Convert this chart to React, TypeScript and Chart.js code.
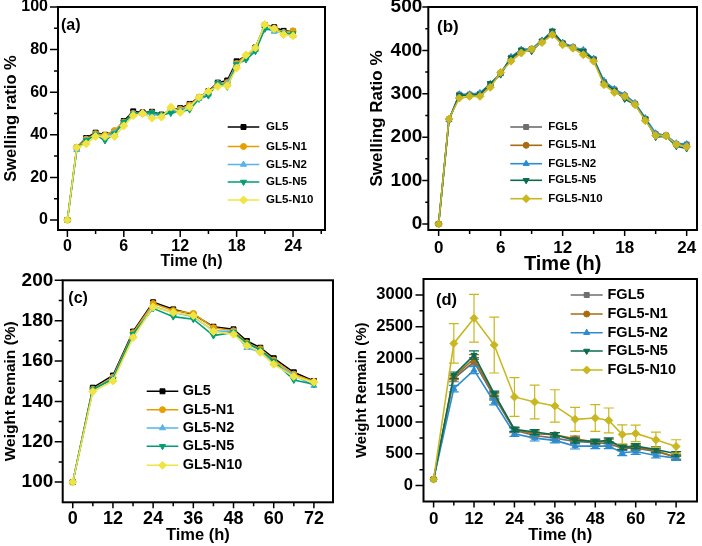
import React, { useEffect, useRef } from 'react';
import { Chart, registerables } from 'chart.js';
import { drawPoint } from 'chart.js/helpers';

Chart.register(...registerables);

const FONT = '"Liberation Sans", Arial, Helvetica, sans-serif';
const W = 702;
const H = 546;

// ---------- data: panels (a) and (b) ----------
const hoursAB = [0, 1, 2, 3, 4, 5, 6, 7, 8, 9, 10, 11, 12, 13, 14, 15, 16, 17, 18, 19, 20, 21, 22, 23, 24];

const gl5A = [0, 34, 38.5, 41, 40, 41.5, 46.5, 51, 50.5, 50.8, 49.5, 51.5, 52.5, 54.5, 57.5, 60.5, 64.5, 65.5, 74.5, 77, 81, 91.5, 90.5, 88.8, 88.5];
const gl5N1A = [0, 34, 38, 40.5, 39.8, 42, 46, 50, 50, 50.3, 49, 51.5, 52, 54, 57.5, 60.3, 64, 64.5, 73.5, 77.3, 80.5, 91.5, 90, 88, 88.8];
const gl5N2A = [0, 33, 37.5, 40, 39, 41, 45.5, 50, 50, 49.5, 49, 51, 51.5, 53.5, 57, 59, 64, 64, 73, 76, 80, 90, 88.5, 88, 86.5];
const gl5N5A = [0, 33.5, 37.3, 40, 37.3, 40.5, 46, 49.5, 50, 50.5, 49.3, 50.2, 51, 51.8, 56.8, 58.4, 64.3, 62.5, 73, 75.3, 79.2, 89.7, 89.3, 87.5, 87.5];
const gl5N10A = [0, 34, 35.8, 39.2, 39.2, 39.2, 44.2, 49, 50, 47.8, 48.3, 53, 50.5, 53, 57.6, 60.4, 62.7, 63, 71.4, 77.5, 80.8, 91.8, 89.7, 87, 86.5];

const fgl5B = [0, 241, 298, 298, 300, 322, 348, 383, 400, 403, 421, 443, 417, 407, 399, 380, 327, 310, 296, 277, 242, 207, 204, 184, 183];
const fgl5N1B = [0, 241, 295, 297, 298, 320, 348, 380, 398, 403, 420, 440, 416, 406, 397, 378, 326, 309, 295, 277, 241, 206, 203, 183, 180];
const fgl5N2B = [0, 240, 299, 299, 302, 323, 346, 385, 402, 404, 423, 444, 418, 408, 401, 381, 330, 311, 298, 279, 244, 209, 204, 186, 184];
const fgl5N5B = [0, 239, 297, 296, 299, 324, 344, 383, 401, 398, 421, 445, 416, 405, 398, 379, 325, 308, 288, 275, 242, 200, 202, 179, 174];
const fgl5N10B = [0, 242, 290, 294, 294, 315, 349, 375, 394, 403, 418, 436, 413, 405, 390, 375, 321, 303, 294, 275, 238, 204, 203, 183, 178];

// ---------- data: panels (c) and (d) ----------
const hoursCD = [0, 6, 12, 18, 24, 30, 36, 42, 48, 52, 56, 60, 66, 72];

const gl5C = [100, 146.8, 152.8, 174.6, 189.1, 185.6, 183.1, 177, 175.7, 169.9, 166.6, 161.4, 154.4, 150.1];
const gl5N1C = [100, 146, 152, 174, 188.5, 185, 183.6, 176.5, 175, 169, 166, 160.5, 153.5, 149.8];
const gl5N2C = [100, 145.5, 151.5, 173, 187, 184, 182, 175, 174.5, 166.6, 164.5, 159, 153, 147.8];
const gl5N5C = [100, 146, 151, 173.3, 186.1, 182, 180.7, 172.6, 174.2, 168.8, 165.5, 160, 150.6, 148.5];
const gl5N10C = [100, 144.9, 150.1, 171.6, 186.8, 184, 182.5, 174.6, 173.3, 167.6, 164.3, 158.4, 152.3, 149.5];

const fgl5D = [100, 1684, 1947, 1395, 868, 789, 747, 695, 674, 658, 589, 589, 537, 447];
const fgl5N1D = [100, 1711, 2000, 1421, 879, 816, 800, 737, 684, 695, 605, 605, 553, 447];
const fgl5N2D = [100, 1526, 1816, 1316, 816, 747, 711, 621, 621, 621, 516, 537, 474, 432];
const fgl5N5D = [100, 1737, 2053, 1447, 884, 842, 800, 711, 695, 711, 605, 621, 568, 500];
const fgl5N10D = [100, 2237, 2632, 2211, 1395, 1316, 1253, 1042, 1063, 1026, 805, 821, 721, 616];

const fgl5DErr = [0, 50, 65, 50, 35, 40, 35, 40, 35, 35, 40, 40, 40, 35];
const fgl5N1DErr = [0, 45, 60, 45, 35, 40, 35, 40, 35, 35, 35, 35, 35, 35];
const fgl5N2DErr = [0, 50, 55, 45, 40, 45, 40, 45, 40, 40, 45, 45, 40, 35];
const fgl5N5DErr = [0, 50, 65, 40, 35, 40, 35, 40, 35, 40, 40, 40, 40, 35];
const fgl5N10DErr = [0, 310, 375, 440, 305, 265, 255, 190, 210, 195, 150, 130, 120, 105];

// ---------- names and ticks ----------
const namesAC = ['GL5', 'GL5-N1', 'GL5-N2', 'GL5-N5', 'GL5-N10'];
const namesBD = ['FGL5', 'FGL5-N1', 'FGL5-N2', 'FGL5-N5', 'FGL5-N10'];

const xTicksA = [0, 3, 6, 9, 12, 15, 18, 21, 24, 27];
const xTicksB = [0, 3, 6, 9, 12, 15, 18, 21, 24];
const xLabelsAB = [0, 6, 12, 18, 24];
const xTicksCD = [0, 6, 12, 18, 24, 30, 36, 42, 48, 54, 60, 66, 72];
const xLabelsCD = [0, 12, 24, 36, 48, 60, 72];

const yTicksA = [0, 10, 20, 30, 40, 50, 60, 70, 80, 90, 100];
const yLabelsA = [0, 20, 40, 60, 80, 100];
const yTicksB = [0, 50, 100, 150, 200, 250, 300, 350, 400, 450, 500];
const yLabelsB = [0, 100, 200, 300, 400, 500];
const yTicksC = [100, 110, 120, 130, 140, 150, 160, 170, 180, 190, 200];
const yLabelsC = [100, 120, 140, 160, 180, 200];
const yTicksD = [0, 250, 500, 750, 1000, 1250, 1500, 1750, 2000, 2250, 2500, 2750, 3000];
const yLabelsD = [0, 500, 1000, 1500, 2000, 2500, 3000];

// ---------- styles ----------
const colorsAC = ['#000000', '#E69F00', '#56B4E9', '#009E73', '#F0E442'];
const colorsBD = ['#6E6E6E', '#A86B12', '#2B8CD0', '#0B6B4F', '#C9B720'];
const pointStyles = ['rect', 'circle', 'triangle', 'triangle', 'rectRot'];
const pointRotations = [0, 0, 0, 180, 0];
const pointRadii = [3.5, 3, 3.5, 3.5, 4];

const panels: any[] = [
  {
    key: 'a', tag: '(a)', tagX: 61, tagY: 26, tagSize: 16,
    frame: { l: 58, r: 325, t: 7, b: 230 },
    xs: hoursAB, series: [gl5A, gl5N1A, gl5N2A, gl5N5A, gl5N10A], errors: null,
    names: namesAC, colors: colorsAC,
    x: { min: -1, max: 27.4, ticks: xTicksA, labels: xLabelsAB, tickSize: 16, tickCenter: 246, majorLen: 7, minorLen: 4, title: 'Time (h)', titleSize: 16, titleCenter: 262 },
    y: { min: -4.7, max: 100, ticks: yTicksA, labels: yLabelsA, tickSize: 16, tickRight: 48, majorLen: 8, minorLen: 4, title: 'Swelling ratio %', titleSize: 16.5, titleCenter: 11 },
    legend: { x0: 227.7, x1: 259.3, textX: 266, ys: [127, 146.5, 164.5, 182, 200], size: 11.5 },
  },
  {
    key: 'b', tag: '(b)', tagX: 437, tagY: 27.8, tagSize: 17,
    frame: { l: 428.3, r: 699.5, t: 7, b: 230 },
    xs: hoursAB, series: [fgl5B, fgl5N1B, fgl5N2B, fgl5N5B, fgl5N10B], errors: null,
    names: namesBD, colors: colorsBD,
    x: { min: -1, max: 25, ticks: xTicksB, labels: xLabelsAB, tickSize: 17, tickCenter: 248, majorLen: 6, minorLen: 4, title: 'Time (h)', titleSize: 20, titleCenter: 264 },
    y: { min: -14, max: 500, ticks: yTicksB, labels: yLabelsB, tickSize: 19, tickRight: 422.7, majorLen: 6, minorLen: 3, title: 'Swelling Ratio %', titleSize: 17, titleCenter: 377 },
    legend: { x0: 510.3, x1: 542, textX: 548.3, ys: [127, 145.3, 163.7, 180.3, 198.7], size: 11.5 },
  },
  {
    key: 'c', tag: '(c)', tagX: 68.3, tagY: 299, tagSize: 16,
    frame: { l: 62.7, r: 333, t: 280.3, b: 502.3 },
    xs: hoursCD, series: [gl5C, gl5N1C, gl5N2C, gl5N5C, gl5N10C], errors: null,
    names: namesAC, colors: colorsAC,
    x: { min: -3, max: 77.7, ticks: xTicksCD, labels: xLabelsCD, tickSize: 18, tickCenter: 519.5, majorLen: 6, minorLen: 4, title: 'Time (h)', titleSize: 16.5, titleCenter: 535 },
    y: { min: 90, max: 200, ticks: yTicksC, labels: yLabelsC, tickSize: 19, tickRight: 53.3, majorLen: 8, minorLen: 4, title: 'Weight Remain (%)', titleSize: 15.5, titleCenter: 11 },
    legend: { x0: 146.7, x1: 178.3, textX: 182.7, ys: [391.3, 409.7, 428, 446.3, 465.3], size: 14.5 },
  },
  {
    key: 'd', tag: '(d)', tagX: 436, tagY: 300, tagSize: 16.5,
    frame: { l: 423.5, r: 699.3, t: 279, b: 501.5 },
    xs: hoursCD, series: [fgl5D, fgl5N1D, fgl5N2D, fgl5N5D, fgl5N10D],
    errors: [fgl5DErr, fgl5N1DErr, fgl5N2DErr, fgl5N5DErr, fgl5N10DErr],
    names: namesBD, colors: colorsBD,
    x: { min: -3, max: 78.2, ticks: xTicksCD, labels: xLabelsCD, tickSize: 17, tickCenter: 519, majorLen: 6, minorLen: 4, title: 'Time (h)', titleSize: 16.5, titleCenter: 535 },
    y: { min: -250, max: 3250, ticks: yTicksD, labels: yLabelsD, tickSize: 16.5, tickRight: 413, majorLen: 8, minorLen: 4, title: 'Weight Remain (%)', titleSize: 15, titleCenter: 362 },
    legend: { x0: 570.7, x1: 602.7, textX: 607.5, ys: [295, 314, 332.7, 351, 370], size: 14.5 },
  },
];

function bold(size: number) {
  return { family: FONT, size, weight: 'bold' as const, lineHeight: 1.2 };
}

function buildChart(canvas: HTMLCanvasElement, cfg: any) {
  const lhXTick = cfg.x.tickSize * 1.2;
  const lhXTitle = cfg.x.titleSize * 1.2;
  const lhYTitle = cfg.y.titleSize * 1.2;
  const padLeft = cfg.y.titleCenter - lhYTitle / 2;
  const yWidth = cfg.frame.l - padLeft;
  const xBottom = cfg.x.titleCenter + lhXTitle / 2;
  const xHeight = xBottom - cfg.frame.b;
  const yTickPad = Math.max(0, cfg.frame.l - cfg.y.majorLen - cfg.y.tickRight);
  const xTickPad = Math.max(0, cfg.x.tickCenter - cfg.frame.b - cfg.x.majorLen - lhXTick / 2);

  const datasets = cfg.series.map((vals: number[], i: number) => ({
    label: cfg.names[i],
    data: cfg.xs.map((t: number, j: number) => ({ x: t, y: vals[j] })),
    borderColor: cfg.colors[i],
    backgroundColor: cfg.colors[i],
    borderWidth: 1.6,
    pointStyle: pointStyles[i],
    pointRotation: pointRotations[i],
    pointRadius: pointRadii[i],
    pointHoverRadius: pointRadii[i],
    pointBorderWidth: 1,
    pointBackgroundColor: cfg.colors[i],
    pointBorderColor: cfg.colors[i],
    tension: 0,
    fill: false,
    order: 5 - i,
  }));

  const zeroPad = (s: any) => {
    s.paddingLeft = 0;
    s.paddingRight = 0;
    s.paddingTop = 0;
    s.paddingBottom = 0;
  };

  const deco = {
    id: 'deco_' + cfg.key,
    beforeDatasetDraw(chart: any, args: any) {
      if (!cfg.errors) return;
      const i = args.index;
      const err = cfg.errors[i];
      const vals = cfg.series[i];
      const xs = chart.scales.x;
      const ys = chart.scales.y;
      const ctx = chart.ctx;
      ctx.save();
      ctx.strokeStyle = cfg.colors[i];
      ctx.lineWidth = 1.2;
      cfg.xs.forEach((t: number, j: number) => {
        if (!err[j]) return;
        const px = xs.getPixelForValue(t);
        const top = ys.getPixelForValue(vals[j] + err[j]);
        const bot = ys.getPixelForValue(vals[j] - err[j]);
        ctx.beginPath();
        ctx.moveTo(px, top);
        ctx.lineTo(px, bot);
        ctx.moveTo(px - 5, top);
        ctx.lineTo(px + 5, top);
        ctx.moveTo(px - 5, bot);
        ctx.lineTo(px + 5, bot);
        ctx.stroke();
      });
      ctx.restore();
    },
    afterDraw(chart: any) {
      const ctx = chart.ctx;
      const a = chart.chartArea;
      const xs = chart.scales.x;
      const ys = chart.scales.y;
      ctx.save();
      // ticks
      ctx.strokeStyle = '#000';
      ctx.lineWidth = 1.5;
      ctx.beginPath();
      cfg.x.ticks.forEach((v: number) => {
        const px = xs.getPixelForValue(v);
        const len = cfg.x.labels.includes(v) ? cfg.x.majorLen : cfg.x.minorLen;
        ctx.moveTo(px, a.bottom);
        ctx.lineTo(px, a.bottom + len);
      });
      cfg.y.ticks.forEach((v: number) => {
        const py = ys.getPixelForValue(v);
        const len = cfg.y.labels.includes(v) ? cfg.y.majorLen : cfg.y.minorLen;
        ctx.moveTo(a.left, py);
        ctx.lineTo(a.left - len, py);
      });
      ctx.stroke();
      // frame
      ctx.lineWidth = 2;
      ctx.strokeRect(a.left, a.top, a.right - a.left, a.bottom - a.top);
      // legend
      const lg = cfg.legend;
      cfg.names.forEach((name: string, i: number) => {
        const y = lg.ys[i];
        ctx.strokeStyle = cfg.colors[i];
        ctx.fillStyle = cfg.colors[i];
        ctx.lineWidth = 1.6;
        ctx.beginPath();
        ctx.moveTo(lg.x0, y);
        ctx.lineTo(lg.x1, y);
        ctx.stroke();
        ctx.lineWidth = 1;
        drawPoint(ctx, { pointStyle: pointStyles[i], rotation: pointRotations[i], radius: pointRadii[i], borderWidth: 1 } as any, (lg.x0 + lg.x1) / 2, y);
        ctx.fillStyle = '#000';
        ctx.font = `bold ${lg.size}px ${FONT}`;
        ctx.textAlign = 'left';
        ctx.textBaseline = 'middle';
        ctx.fillText(name, lg.textX, y);
      });
      // panel tag
      ctx.fillStyle = '#000';
      ctx.font = `bold ${cfg.tagSize}px ${FONT}`;
      ctx.textAlign = 'left';
      ctx.textBaseline = 'middle';
      ctx.fillText(cfg.tag, cfg.tagX, cfg.tagY);
      ctx.restore();
    },
  };

  return new Chart(canvas, {
    type: 'line',
    data: { datasets },
    options: {
      animation: false,
      responsive: false,
      devicePixelRatio: 1,
      events: [],
      layout: {
        padding: { left: padLeft, right: W - cfg.frame.r, top: cfg.frame.t, bottom: H - xBottom },
      },
      plugins: { legend: { display: false }, tooltip: { enabled: false }, title: { display: false } },
      scales: {
        x: {
          type: 'linear',
          min: cfg.x.min,
          max: cfg.x.max,
          afterBuildTicks: (s: any) => {
            s.ticks = cfg.x.ticks.map((v: number) => ({ value: v }));
          },
          afterFit: (s: any) => {
            s.height = xHeight;
            zeroPad(s);
          },
          ticks: {
            autoSkip: false,
            maxRotation: 0,
            minRotation: 0,
            padding: xTickPad,
            color: '#000',
            font: bold(cfg.x.tickSize),
            callback: (v: any) => (cfg.x.labels.includes(v) ? String(v) : ''),
          },
          grid: { display: true, drawOnChartArea: false, drawTicks: true, tickLength: cfg.x.majorLen, color: 'rgba(0,0,0,0)' },
          border: { display: false },
          title: { display: true, text: cfg.x.title, color: '#000', font: bold(cfg.x.titleSize), padding: 0 },
        },
        y: {
          type: 'linear',
          min: cfg.y.min,
          max: cfg.y.max,
          afterBuildTicks: (s: any) => {
            s.ticks = cfg.y.ticks.map((v: number) => ({ value: v }));
          },
          afterFit: (s: any) => {
            s.width = yWidth;
            zeroPad(s);
          },
          ticks: {
            autoSkip: false,
            padding: yTickPad,
            color: '#000',
            font: bold(cfg.y.tickSize),
            callback: (v: any) => (cfg.y.labels.includes(v) ? String(v) : ''),
          },
          grid: { display: true, drawOnChartArea: false, drawTicks: true, tickLength: cfg.y.majorLen, color: 'rgba(0,0,0,0)' },
          border: { display: false },
          title: { display: true, text: cfg.y.title, color: '#000', font: bold(cfg.y.titleSize), padding: 0 },
        },
      },
    } as any,
    plugins: [deco],
  });
}

function Panel({ cfg }: { cfg: any }) {
  const ref = useRef<HTMLCanvasElement>(null);
  useEffect(() => {
    const chart = buildChart(ref.current as HTMLCanvasElement, cfg);
    return () => chart.destroy();
  }, [cfg]);
  return (
    <canvas
      ref={ref}
      width={W}
      height={H}
      style={{ position: 'absolute', left: 0, top: 0, width: W, height: H }}
    />
  );
}

export default function App() {
  return (
    <div style={{ position: 'fixed', left: 0, top: 0, width: W, height: H, background: '#fff', overflow: 'hidden' }}>
      {panels.map((p) => (
        <Panel key={p.key} cfg={p} />
      ))}
    </div>
  );
}
